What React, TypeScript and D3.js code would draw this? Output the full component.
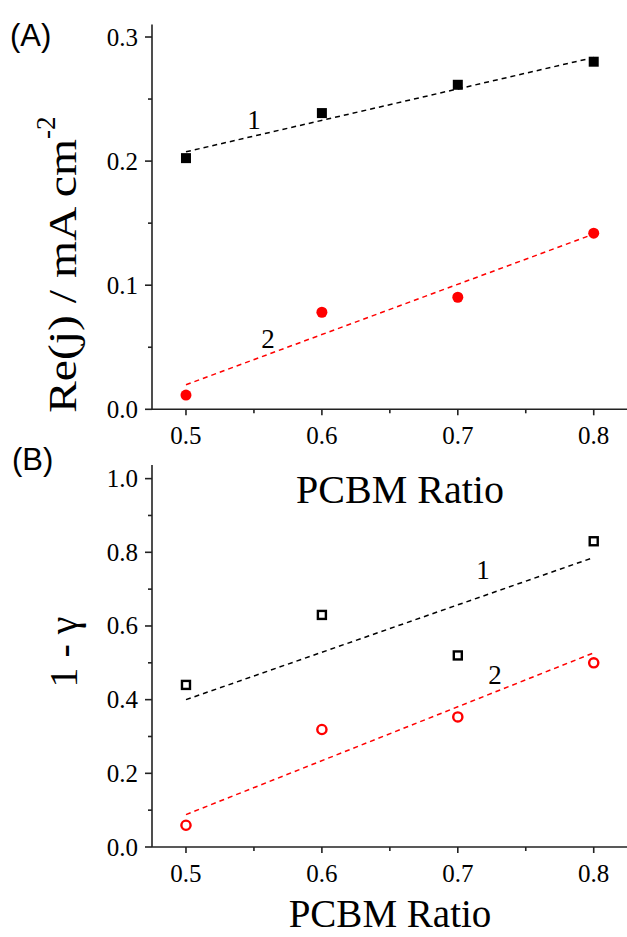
import React from "react";
import * as d3 from "d3";

const ratios = [0.5, 0.6, 0.7, 0.8];
const reJ1 = [0.2024, 0.2387, 0.2615, 0.2801];
const reJ2 = [0.0115, 0.0782, 0.0903, 0.1419];
const fitA1 = [[0.5, 0.2075], [0.8, 0.2835]];
const fitA2 = [[0.5, 0.0198], [0.8, 0.1412]];
const gamma1 = [0.44, 0.63, 0.52, 0.83];
const gamma2 = [0.059, 0.319, 0.353, 0.5];
const fitB1 = [[0.5, 0.4], [0.8, 0.786]];
const fitB2 = [[0.5, 0.088], [0.8, 0.527]];
const xTicks = [0.5, 0.6, 0.7, 0.8];
const xMinor = [0.55, 0.65, 0.75];
const yTicksA = [0.0, 0.1, 0.2, 0.3];
const yMinorA = [0.05, 0.15, 0.25];
const yTicksB = [0.0, 0.2, 0.4, 0.6, 0.8, 1.0];
const yMinorB = [0.1, 0.3, 0.5, 0.7, 0.9];

const SERIF = "Liberation Serif, Times New Roman, DejaVu Serif, serif";
const SANS = "Liberation Sans, Arial, sans-serif";

const x = d3.scaleLinear().domain([0.475, 0.825]).range([152, 627.7]);
const yA = d3.scaleLinear().domain([0, 0.31]).range([409.3, 24.6]);
const yB = d3.scaleLinear().domain([0, 1.037]).range([847, 465]);

const line = (ys: d3.ScaleLinear<number, number>) =>
  d3
    .line<number[]>()
    .x((d) => x(d[0]))
    .y((d) => ys(d[1]));

const serifStyle = (size: number) => ({ fontFamily: SERIF, fontSize: size + "px" });

function Axes({ ys, major, minor, fmt }: any) {
  const yBase = ys(0);
  return (
    <g stroke="#222" strokeWidth={1.6} fill="none">
      <line x1={152} x2={152} y1={ys.range()[1]} y2={yBase} />
      <line x1={152} x2={627} y1={yBase} y2={yBase} />
      {major.map((t: number) => (
        <line key={"ym" + t} x1={145} x2={152} y1={ys(t)} y2={ys(t)} />
      ))}
      {minor.map((t: number) => (
        <line key={"yn" + t} x1={148} x2={152} y1={ys(t)} y2={ys(t)} />
      ))}
      {xTicks.map((t) => (
        <line key={"xm" + t} x1={x(t)} x2={x(t)} y1={yBase} y2={yBase + 6} />
      ))}
      {xMinor.map((t) => (
        <line key={"xn" + t} x1={x(t)} x2={x(t)} y1={yBase} y2={yBase + 4} />
      ))}
      <g stroke="none" fill="#000" style={serifStyle(25)}>
        {major.map((t: number) => (
          <text key={"yl" + t} x={138} y={ys(t)} dy="0.34em" textAnchor="end">
            {fmt(t)}
          </text>
        ))}
        {xTicks.map((t) => (
          <text key={"xl" + t} x={x(t)} y={yBase + 35} textAnchor="middle">
            {t.toFixed(1)}
          </text>
        ))}
      </g>
    </g>
  );
}

export default function App() {
  const f1 = (v: number) => v.toFixed(1);
  return (
    <svg
      width={627}
      height={937}
      style={{ position: "absolute", left: 0, top: 0, background: "#fff" }}
    >
      <rect width={627} height={937} fill="#fff" />
      {/* Panel A */}
      <Axes ys={yA} major={yTicksA} minor={yMinorA} fmt={f1} />
      <path d={line(yA)(fitA1) || ""} stroke="#000" strokeWidth={1.5} strokeDasharray="5,4" fill="none" />
      <path d={line(yA)(fitA2) || ""} stroke="#ff0000" strokeWidth={1.5} strokeDasharray="5,4" fill="none" />
      {ratios.map((r, i) => (
        <rect key={"a1" + i} x={x(r) - 5} y={yA(reJ1[i]) - 5} width={10} height={10} fill="#000" />
      ))}
      {ratios.map((r, i) => (
        <circle key={"a2" + i} cx={x(r)} cy={yA(reJ2[i])} r={5.5} fill="#ff0000" />
      ))}
      <text x={254} y={129} style={serifStyle(27)} textAnchor="middle">1</text>
      <text x={268} y={348} style={serifStyle(27)} textAnchor="middle">2</text>
      <text x={10} y={46} style={{ fontFamily: SANS, fontSize: "31px" }}>(A)</text>
      <text
        transform="translate(76,413) rotate(-90)"
        style={serifStyle(40)}
        textLength={274}
        lengthAdjust="spacingAndGlyphs"
      >
        Re(j) / mA cm
      </text>
      <text transform="translate(55,139) rotate(-90)" style={serifStyle(27)}>-2</text>
      <text x={400} y={503} style={serifStyle(40)} textAnchor="middle">PCBM Ratio</text>

      {/* Panel B */}
      <Axes ys={yB} major={yTicksB} minor={yMinorB} fmt={f1} />
      <path d={line(yB)(fitB1) || ""} stroke="#000" strokeWidth={1.5} strokeDasharray="5,4" fill="none" />
      <path d={line(yB)(fitB2) || ""} stroke="#ff0000" strokeWidth={1.5} strokeDasharray="5,4" fill="none" />
      {ratios.map((r, i) => (
        <rect key={"b1" + i} x={x(r) - 4} y={yB(gamma1[i]) - 4} width={8} height={8} fill="none" stroke="#000" strokeWidth={2.4} />
      ))}
      {ratios.map((r, i) => (
        <circle key={"b2" + i} cx={x(r)} cy={yB(gamma2[i])} r={4.6} fill="none" stroke="#ff0000" strokeWidth={2.4} />
      ))}
      <text x={483} y={579} style={serifStyle(27)} textAnchor="middle">1</text>
      <text x={495} y={684} style={serifStyle(27)} textAnchor="middle">2</text>
      <text x={12} y={470} style={{ fontFamily: SANS, fontSize: "31px" }}>(B)</text>
      <text transform="translate(77,652) rotate(-90)" style={serifStyle(40)} textAnchor="middle">
        1 - γ
      </text>
      <text x={390} y={927} style={serifStyle(39)} textAnchor="middle">PCBM Ratio</text>
    </svg>
  );
}
